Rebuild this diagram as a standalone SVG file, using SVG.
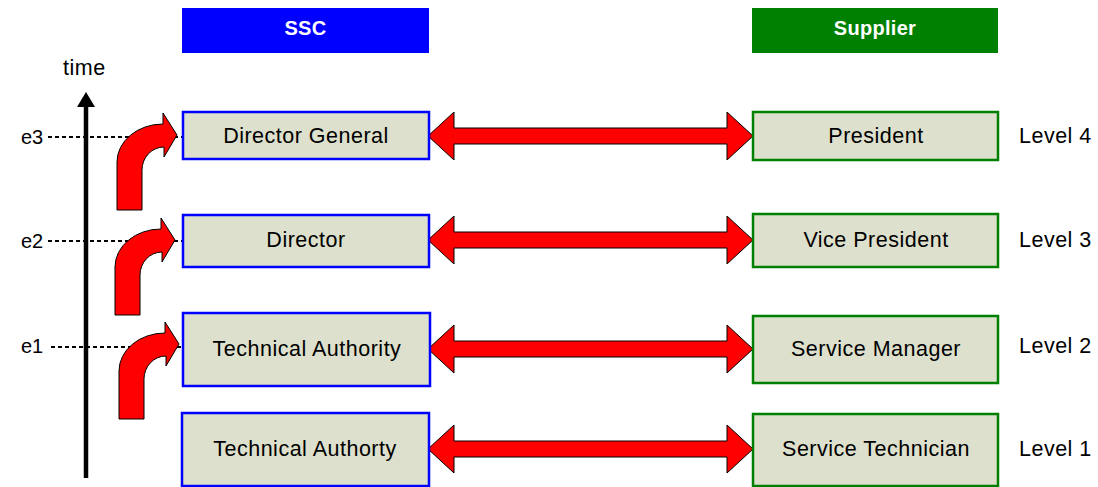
<svg xmlns="http://www.w3.org/2000/svg" width="1098" height="487" viewBox="0 0 1098 487">
<defs>
<style>
text{font-family:"Liberation Sans",Arial,sans-serif;font-size:21.5px;letter-spacing:0.5px;fill:#000}
.hd{font-weight:bold;fill:#fff;font-size:20px;letter-spacing:0.3px;text-anchor:middle}
.lbl{text-anchor:middle}
.ev{font-size:20px;letter-spacing:0}
.ssc{fill:#DDE0CC;stroke:#0000FF;stroke-width:2.5}
.sup{fill:#DDE0CC;stroke:#008000;stroke-width:2.5}
.red{fill:#FF0000;stroke:#000;stroke-width:1}
.dash{stroke:#000;stroke-width:1.8;stroke-dasharray:4 3;fill:none}
</style>
<path id="dbl" class="red" d="M428,0 L454,-24 L454,-8 L727,-8 L727,-24 L753,0 L727,24 L727,8 L454,8 L454,24 Z"/>
<path id="bent" class="red" d="M0,0 L0,-48 A46,38 0 0 1 46,-86 L46,-97 L60,-75 L47,-53 L47,-63 A22,23 0 0 0 25,-40 L25,0 Z"/>
</defs>
<g id="header-ssc"><rect x="182" y="8" width="247" height="45" fill="#0000FF"/><text class="hd" x="305.5" y="35">SSC</text></g>
<g id="header-supplier"><rect x="752" y="8" width="246" height="45" fill="#008000"/><text class="hd" x="875" y="35">Supplier</text></g>
<g id="timeaxis">
<line x1="86" y1="478" x2="86" y2="104" stroke="#000" stroke-width="4.5"/>
<polygon points="86,92 95,107 77,107" fill="#000"/>
<text x="63" y="75">time</text>
</g>
<g id="events">
<text class="ev" x="21" y="144">e3</text>
<text class="ev" x="21" y="248">e2</text>
<text class="ev" x="21" y="353">e1</text>
</g>
<g id="connectors">
<line class="dash" x1="48" y1="137" x2="183" y2="137"/>
<line class="dash" x1="48" y1="241" x2="183" y2="241"/>
<line class="dash" x1="51" y1="347" x2="183" y2="347"/>
<use href="#bent" transform="translate(117,210)"/>
<use href="#bent" transform="translate(115,315)"/>
<use href="#bent" transform="translate(119,419)"/>
<use href="#dbl" transform="translate(0,136)"/>
<use href="#dbl" transform="translate(0,240)"/>
<use href="#dbl" transform="translate(0,349)"/>
<use href="#dbl" transform="translate(0,449)"/>
</g>
<g id="ssc4"><rect class="ssc" x="183" y="112" width="246" height="47"/><text class="lbl" x="306" y="143">Director General</text></g>
<g id="ssc3"><rect class="ssc" x="183" y="215" width="246" height="52"/><text class="lbl" x="306" y="247">Director</text></g>
<g id="ssc2"><rect class="ssc" x="183" y="313" width="247" height="73"/><text class="lbl" x="307" y="356">Technical Authority</text></g>
<g id="ssc1"><rect class="ssc" x="182" y="413" width="247" height="73"/><text class="lbl" x="305" y="456">Technical Authorty</text></g>
<g id="sup4"><rect class="sup" x="753" y="112" width="245" height="48"/><text class="lbl" x="876" y="143">President</text></g>
<g id="sup3"><rect class="sup" x="753" y="214" width="245" height="53"/><text class="lbl" x="876" y="247">Vice President</text></g>
<g id="sup2"><rect class="sup" x="753" y="316" width="245" height="67"/><text class="lbl" x="876" y="356">Service Manager</text></g>
<g id="sup1"><rect class="sup" x="753" y="414" width="245" height="72"/><text class="lbl" x="876" y="456">Service Technician</text></g>
<g id="levels">
<text x="1019" y="143">Level 4</text>
<text x="1019" y="247">Level 3</text>
<text x="1019" y="353">Level 2</text>
<text x="1019" y="456">Level 1</text>
</g>
</svg>
